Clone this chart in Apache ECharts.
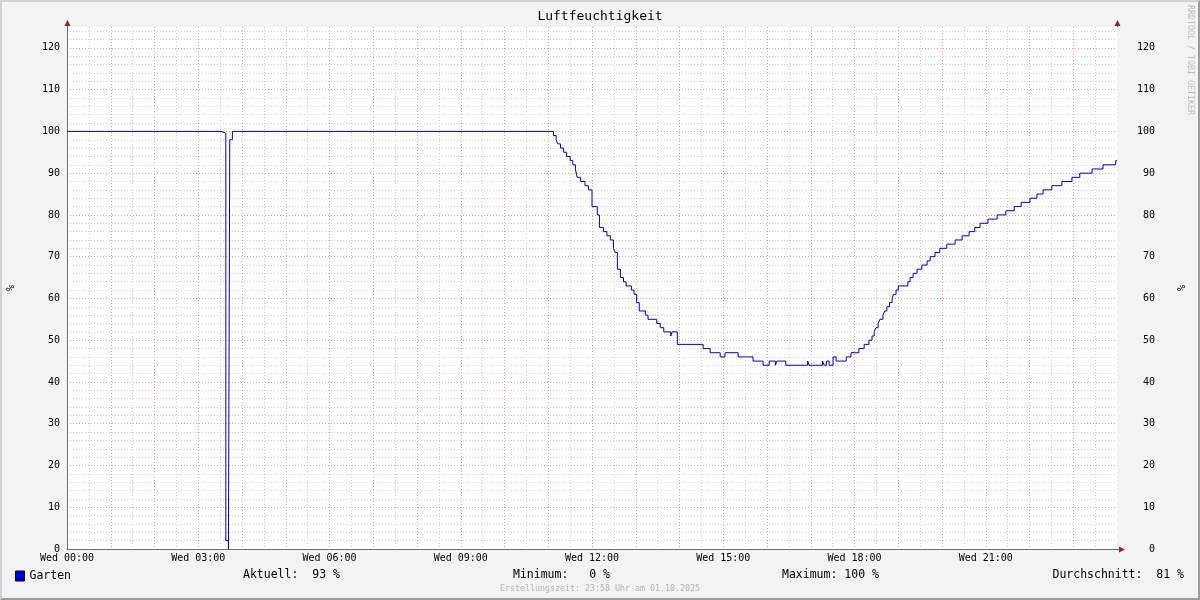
<!DOCTYPE html>
<html><head><meta charset="utf-8">
<script src="https://cdn.jsdelivr.net/npm/echarts@6/dist/echarts.min.js"></script>
<style>
html,body{margin:0;padding:0;background:#f3f3f3;}
#c{position:absolute;left:0;top:0;width:1200px;height:600px;}
#frame{position:absolute;left:0;top:0;width:1200px;height:600px;box-sizing:border-box;border:2px solid;border-color:#d2d2d2 #9c9c9c #9c9c9c #d2d2d2;pointer-events:none;}
</style></head>
<body>
<div id="c"></div><div id="frame"></div>
<script>
// time of change (hours since Wed 00:00) and humidity value held from that time on
const times = [0.00, 3.52, 3.63, 3.69, 3.72, 3.78,
  11.12, 11.18, 11.22, 11.28, 11.35, 11.42, 11.50, 11.56, 11.62, 11.66, 11.74, 11.84, 11.92, 12.00,
  12.12, 12.17, 12.26, 12.34, 12.42, 12.49, 12.53, 12.58, 12.65, 12.72, 12.78, 12.90, 12.96, 13.02, 13.08,
  13.22, 13.28, 13.48, 13.56, 13.64, 13.80, 13.83, 13.95,
  14.54, 14.70, 14.93, 15.04, 15.34, 15.68, 15.91, 16.05, 16.19, 16.23, 16.43, 16.93, 16.96,
  17.27, 17.31, 17.36, 17.42, 17.51, 17.58, 17.81, 17.92, 18.10, 18.22, 18.33, 18.40, 18.45, 18.49,
  18.54, 18.58, 18.65, 18.69, 18.74, 18.80, 18.86, 18.89, 18.95, 19.00, 19.22, 19.27, 19.34, 19.43,
  19.54, 19.66, 19.73, 19.84, 19.95, 20.11, 20.30, 20.46, 20.62, 20.75, 20.87, 21.05, 21.26, 21.46,
  21.65, 21.81, 22.01, 22.17, 22.31, 22.51, 22.74, 22.97, 23.15, 23.43, 23.68, 23.97, 24.00];
const values = [100, 99.6, 2, 0, 98, 100,
  99, 98, 97, 96, 95, 94, 93, 92, 91, 89, 88, 87, 86, 82,
  80, 77, 76, 75, 74, 72, 71, 67, 65, 64, 63, 62, 61, 59, 57,
  56, 55, 54, 53, 52, 51, 52, 49,
  48, 47, 46, 47, 46, 45, 44, 45, 44, 45, 44, 45, 44,
  45, 44, 45, 44, 46, 45, 46, 47, 48, 49, 50, 51, 52, 53,
  54, 55, 56, 57, 58, 59, 60, 61, 62, 63, 64, 65, 66, 67,
  68, 69, 70, 71, 72, 73, 74, 75, 76, 77, 78, 79, 80, 81,
  82, 83, 84, 85, 86, 87, 88, 89, 90, 91, 92, 93, 93];
const xTickLabels = ['Wed 00:00','Wed 03:00','Wed 06:00','Wed 09:00','Wed 12:00','Wed 15:00','Wed 18:00','Wed 21:00'];
const seriesName = 'Garten';
const statLabels = ['Aktuell:  93 %', 'Minimum:   0 %', 'Maximum: 100 %', 'Durchschnitt:  81 %'];
const titleText = 'Luftfeuchtigkeit';
const footerText = 'Erstellungszeit: 23:58 Uhr am 01.10.2025';
const watermark = 'RRDTOOL / TOBI OETIKER';
const unitLabel = '%';

const MONO = '"DejaVu Sans Mono", monospace';
const RED = '#e6a6a6', GREY = '#d0d0d0', AXIS = '#6e6e6e', ARROW = '#9a1f1f';
const DASH = [1, 2];
const L = 67, R = 1117, T = 27, B = 549;

const chart = echarts.init(document.getElementById('c'), null, {renderer: 'canvas'});
const lbl = {fontFamily: MONO, fontSize: 10, color: '#000'};

function yAxisLabelCfg(pos) {
  const left = pos === 'left';
  return {
    type: 'value', position: pos, min: 0, max: 125, interval: 10,
    name: unitLabel, nameLocation: 'middle', nameRotate: 90,
    nameGap: left ? 51 : 60,
    nameTextStyle: lbl,
    axisLine: {show: true, lineStyle: {color: AXIS, width: 1}},
    axisTick: {show: false},
    axisLabel: Object.assign({}, lbl, {margin: left ? 7 : 38, align: 'right', padding: [4, 0, 0, 0],
      formatter: v => (v <= 120) ? String(v) : ''}),
    splitLine: left ? {show: true, showMaxLine: false, showMinLine: false,
      lineStyle: {color: RED, type: DASH, width: 1}} : {show: false},
    z: 3
  };
}

chart.setOption({
  animation: false,
  backgroundColor: '#f3f3f3',
  title: {text: titleText, left: 'center', top: 10, padding: 0,
    textStyle: {fontFamily: MONO, fontSize: 13, fontWeight: 'normal', color: '#000'}},
  grid: {left: L, right: 1200 - R, top: T, bottom: 600 - B, show: true,
    backgroundColor: '#ffffff', borderWidth: 0, containLabel: false, outerBoundsMode: 'none'},
  legend: {
    left: 15, top: 570, padding: 0, itemWidth: 9, itemHeight: 10,
    icon: 'rect', data: [seriesName],
    textStyle: {fontFamily: MONO, fontSize: 11.5, color: '#000'},
    itemStyle: {borderColor: '#000', borderWidth: 1}
  },
  xAxis: [{
    type: 'value', min: 0, max: 24, interval: 0.5,
    axisLine: {show: false}, axisTick: {show: false}, axisLabel: {show: false},
    splitLine: {show: true, showMinLine: false, showMaxLine: false,
      lineStyle: {color: GREY, type: DASH, width: 1}}, z: 1
  }, {
    type: 'value', min: 0, max: 24, interval: 1, position: 'bottom',
    axisLine: {show: true, onZero: false, lineStyle: {color: AXIS, width: 1}},
    axisTick: {show: false},
    axisLabel: Object.assign({}, lbl, {margin: 4,
      formatter: v => (v % 3 === 0 && v < 24) ? xTickLabels[v / 3] : ''}),
    splitLine: {show: true, showMinLine: false, showMaxLine: false,
      lineStyle: {color: RED, type: DASH, width: 1}}, z: 3
  }],
  yAxis: [yAxisLabelCfg('left'), yAxisLabelCfg('right'), {
    type: 'value', position: 'left', min: 0, max: 125, interval: 2,
    axisLine: {show: false}, axisTick: {show: false}, axisLabel: {show: false},
    splitLine: {show: true, showMinLine: false, showMaxLine: false,
      lineStyle: {color: GREY, type: DASH, width: 1}}, z: 1
  }],
  series: [{
    name: seriesName, type: 'line', step: 'end', symbol: 'none',
    xAxisIndex: 1, yAxisIndex: 0,
    data: times.map((t, i) => [t, values[i]]),
    lineStyle: {color: '#0000cc', width: 1},
    itemStyle: {color: '#0000cc'},
    clip: false, z: 5
  }],
  graphic: [
    {type: 'line', shape: {x1: L + 0.5, y1: 24, x2: L + 0.5, y2: T}, style: {stroke: AXIS, lineWidth: 1}},
    {type: 'line', shape: {x1: R + 0.5, y1: 24, x2: R + 0.5, y2: T}, style: {stroke: AXIS, lineWidth: 1}},
    {type: 'line', shape: {x1: R, y1: B + 0.5, x2: R + 3, y2: B + 0.5}, style: {stroke: AXIS, lineWidth: 1}},
    {type: 'polygon', shape: {points: [[L + 0.5, 20], [L - 2.5, 26], [L + 3.5, 26]]}, style: {fill: ARROW}},
    {type: 'polygon', shape: {points: [[R + 0.5, 20], [R - 2.5, 26], [R + 3.5, 26]]}, style: {fill: ARROW}},
    {type: 'polygon', shape: {points: [[R + 8, B + 0.5], [R + 2, B - 2.5], [R + 2, B + 3.5]]}, style: {fill: ARROW}},
    {type: 'text', x: 243, y: 575, style: {text: statLabels[0], font: '11.5px ' + MONO, fill: '#000', verticalAlign: 'middle'}},
    {type: 'text', x: 513, y: 575, style: {text: statLabels[1], font: '11.5px ' + MONO, fill: '#000', verticalAlign: 'middle'}},
    {type: 'text', x: 782, y: 575, style: {text: statLabels[2], font: '11.5px ' + MONO, fill: '#000', verticalAlign: 'middle'}},
    {type: 'text', x: 1184, y: 575, style: {text: statLabels[3], font: '11.5px ' + MONO, fill: '#000', align: 'right', verticalAlign: 'middle'}},
    {type: 'text', x: 600, y: 589, style: {text: footerText, font: '8.3px ' + MONO, fill: '#b4b4b4', align: 'center', verticalAlign: 'middle'}},
    {type: 'text', x: 1190, y: 5, rotation: -Math.PI / 2, style: {text: watermark, font: '8.3px ' + MONO, fill: '#bdbdbd', align: 'left', verticalAlign: 'middle'}}
  ]
});
</script>
</body></html>
